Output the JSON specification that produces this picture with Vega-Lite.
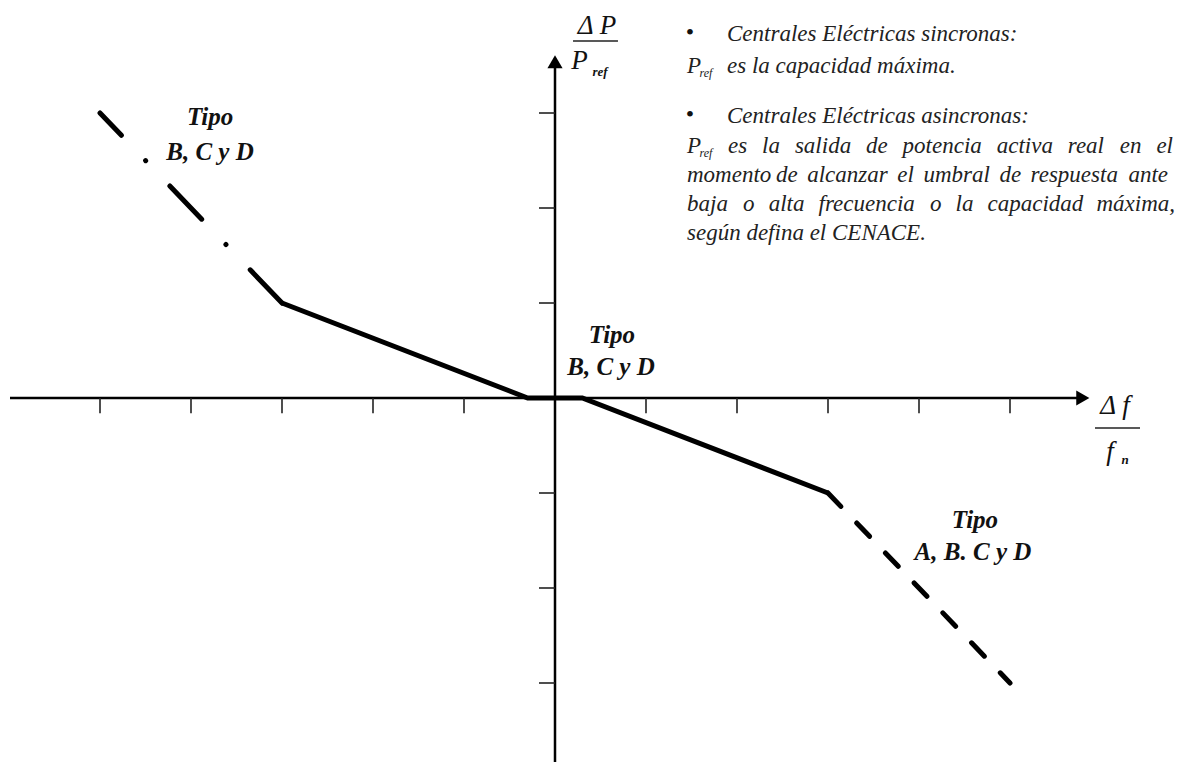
{
  "$schema": "https://vega.github.io/schema/vega-lite/v6.json",
  "width": 1182,
  "height": 762,
  "autosize": {"type": "none"},
  "padding": 0,
  "background": "white",
  "config": {"view": {"stroke": null}, "text": {"font": "Liberation Serif"}},
  "datasets": {
    "curve": [
      {"part": "dashL", "o": 0, "x": -3, "y": 1},
      {"part": "dashL", "o": 1, "x": -5, "y": 3},
      {"part": "solid", "o": 0, "x": -3, "y": 1},
      {"part": "solid", "o": 1, "x": -0.3, "y": 0},
      {"part": "solid", "o": 2, "x": 0.3, "y": 0},
      {"part": "solid", "o": 3, "x": 3, "y": -1},
      {"part": "dashR", "o": 0, "x": 3, "y": -1},
      {"part": "dashR", "o": 1, "x": 5, "y": -3}
    ],
    "axes": [
      {"x": -5.989, "y": 0, "x2": 5.8, "y2": 0},
      {"x": 0, "y": -3.8316, "x2": 0, "y2": 3.54}
    ],
    "ticks": [
      {"x": -5, "y": 0, "x2": -5, "y2": -0.16},
      {"x": -4, "y": 0, "x2": -4, "y2": -0.16},
      {"x": -3, "y": 0, "x2": -3, "y2": -0.16},
      {"x": -2, "y": 0, "x2": -2, "y2": -0.16},
      {"x": -1, "y": 0, "x2": -1, "y2": -0.16},
      {"x": 1, "y": 0, "x2": 1, "y2": -0.16},
      {"x": 2, "y": 0, "x2": 2, "y2": -0.16},
      {"x": 3, "y": 0, "x2": 3, "y2": -0.16},
      {"x": 4, "y": 0, "x2": 4, "y2": -0.16},
      {"x": 5, "y": 0, "x2": 5, "y2": -0.16},
      {"x": -0.176, "y": 3, "x2": 0, "y2": 3},
      {"x": -0.176, "y": 2, "x2": 0, "y2": 2},
      {"x": -0.176, "y": 1, "x2": 0, "y2": 1},
      {"x": -0.176, "y": -1, "x2": 0, "y2": -1},
      {"x": -0.176, "y": -2, "x2": 0, "y2": -2},
      {"x": -0.176, "y": -3, "x2": 0, "y2": -3}
    ],
    "bars": [
      {"x": 0.198, "y": 3.758, "x2": 0.692, "y2": 3.758},
      {"x": 5.934, "y": -0.316, "x2": 6.429, "y2": -0.316}
    ],
    "arrows": [
      {"x": 5.8, "y": 0, "dir": "right"},
      {"x": 0, "y": 3.54, "dir": "up"}
    ],
    "labels": [
      {"kind": "tipo", "t": "Tipo", "x": -3.791, "y": 2.958},
      {"kind": "tipo", "t": "B, C y D", "x": -3.791, "y": 2.589},
      {"kind": "tipo", "t": "Tipo", "x": 0.626, "y": 0.663},
      {"kind": "tipo", "t": "B, C y D", "x": 0.615, "y": 0.326},
      {"kind": "tipo", "t": "Tipo", "x": 4.615, "y": -1.284},
      {"kind": "tipo", "t": "A, B. C y D", "x": 4.593, "y": -1.621},
      {"kind": "axis", "t": "Δ P", "x": 0.462, "y": 3.916},
      {"kind": "axis", "t": "P", "x": 0.27, "y": 3.547},
      {"kind": "axis", "t": "Δ f", "x": 6.154, "y": -0.084},
      {"kind": "axis", "t": "f", "x": 6.099, "y": -0.568},
      {"kind": "axsub", "t": "ref", "x": 0.495, "y": 3.432},
      {"kind": "axsub", "t": "n", "x": 6.264, "y": -0.653},
      {"kind": "bullet", "t": "•", "x": 1.4835, "y": 3.842},
      {"kind": "bullet", "t": "•", "x": 1.4835, "y": 2.979},
      {"kind": "note", "t": "Centrales Eléctricas sincronas:", "x": 1.8901, "y": 3.758},
      {"kind": "note", "t": "P", "x": 1.4505, "y": 3.421},
      {"kind": "notesub", "t": "ref", "x": 1.5879, "y": 3.379},
      {"kind": "note", "t": "es la capacidad máxima.", "x": 1.8901, "y": 3.421},
      {"kind": "note", "t": "Centrales Eléctricas asincronas:", "x": 1.8901, "y": 2.895},
      {"kind": "note", "t": "P", "x": 1.4505, "y": 2.579},
      {"kind": "notesub", "t": "ref", "x": 1.5879, "y": 2.537},
      {"kind": "note", "t": "es", "x": 1.9011, "y": 2.579},
      {"kind": "note", "t": "la", "x": 2.2758, "y": 2.579},
      {"kind": "note", "t": "salida", "x": 2.6363, "y": 2.579},
      {"kind": "note", "t": "de", "x": 3.4176, "y": 2.579},
      {"kind": "note", "t": "potencia", "x": 3.8198, "y": 2.579},
      {"kind": "note", "t": "activa", "x": 4.8538, "y": 2.579},
      {"kind": "note", "t": "real", "x": 5.6352, "y": 2.579},
      {"kind": "note", "t": "en", "x": 6.2066, "y": 2.579},
      {"kind": "note", "t": "el", "x": 6.6088, "y": 2.579},
      {"kind": "note", "t": "momento", "x": 1.4505, "y": 2.274},
      {"kind": "note", "t": "de", "x": 2.4275, "y": 2.274},
      {"kind": "note", "t": "alcanzar", "x": 2.7714, "y": 2.274},
      {"kind": "note", "t": "el", "x": 3.7604, "y": 2.274},
      {"kind": "note", "t": "umbral", "x": 4.0484, "y": 2.274},
      {"kind": "note", "t": "de", "x": 4.8835, "y": 2.274},
      {"kind": "note", "t": "respuesta", "x": 5.2264, "y": 2.274},
      {"kind": "note", "t": "ante", "x": 6.3011, "y": 2.274},
      {"kind": "note", "t": "baja", "x": 1.4505, "y": 1.968},
      {"kind": "note", "t": "o", "x": 2.0659, "y": 1.968},
      {"kind": "note", "t": "alta", "x": 2.3485, "y": 1.968},
      {"kind": "note", "t": "frecuencia", "x": 2.8967, "y": 1.968},
      {"kind": "note", "t": "o", "x": 4.1198, "y": 1.968},
      {"kind": "note", "t": "la", "x": 4.4011, "y": 1.968},
      {"kind": "note", "t": "capacidad", "x": 4.7527, "y": 1.968},
      {"kind": "note", "t": "máxima,", "x": 5.9505, "y": 1.968},
      {"kind": "note", "t": "según defina el CENACE.", "x": 1.4505, "y": 1.663}
    ]
  },
  "encoding": {
    "x": {"field": "x", "type": "quantitative", "scale": {"domain": [-6.0989, 6.8901], "nice": false, "zero": false}, "axis": null},
    "y": {"field": "y", "type": "quantitative", "scale": {"domain": [-3.8316, 4.1895], "nice": false, "zero": false}, "axis": null}
  },
  "layer": [
    {
      "data": {"name": "axes"},
      "mark": {"type": "rule", "color": "black", "strokeWidth": 2.5},
      "encoding": {"x2": {"field": "x2"}, "y2": {"field": "y2"}}
    },
    {
      "data": {"name": "ticks"},
      "mark": {"type": "rule", "color": "#222222", "strokeWidth": 1.6},
      "encoding": {"x2": {"field": "x2"}, "y2": {"field": "y2"}}
    },
    {
      "data": {"name": "bars"},
      "mark": {"type": "rule", "color": "#222222", "strokeWidth": 1.6},
      "encoding": {"x2": {"field": "x2"}, "y2": {"field": "y2"}}
    },
    {
      "data": {"name": "arrows"},
      "mark": {"type": "point", "filled": true, "color": "black", "size": 230, "opacity": 1},
      "encoding": {
        "shape": {"field": "dir", "type": "nominal", "scale": {"domain": ["right", "up"], "range": ["triangle-right", "triangle-up"]}, "legend": null}
      }
    },
    {
      "data": {"name": "curve"},
      "transform": [{"filter": "datum.part === 'solid'"}],
      "mark": {"type": "line", "color": "black", "strokeWidth": 5, "strokeJoin": "miter"},
      "encoding": {"order": {"field": "o", "type": "quantitative"}}
    },
    {
      "data": {"name": "curve"},
      "transform": [{"filter": "datum.part === 'dashL'"}],
      "mark": {"type": "line", "color": "black", "strokeWidth": 5, "strokeCap": "round", "strokeDash": [46, 35, 0.1, 35]},
      "encoding": {"order": {"field": "o", "type": "quantitative"}}
    },
    {
      "data": {"name": "curve"},
      "transform": [{"filter": "datum.part === 'dashR'"}],
      "mark": {"type": "line", "color": "black", "strokeWidth": 5, "strokeCap": "round", "strokeDash": [18.5, 23]},
      "encoding": {"order": {"field": "o", "type": "quantitative"}}
    },
    {
      "data": {"name": "labels"},
      "transform": [{"filter": "datum.kind === 'tipo'"}],
      "mark": {"type": "text", "fontStyle": "italic", "fontWeight": "bold", "fontSize": 25, "align": "center", "baseline": "middle", "color": "#111111"},
      "encoding": {"text": {"field": "t"}}
    },
    {
      "data": {"name": "labels"},
      "transform": [{"filter": "datum.kind === 'axis'"}],
      "mark": {"type": "text", "fontStyle": "italic", "fontSize": 27, "align": "center", "baseline": "middle", "color": "#111111"},
      "encoding": {"text": {"field": "t"}}
    },
    {
      "data": {"name": "labels"},
      "transform": [{"filter": "datum.kind === 'axsub'"}],
      "mark": {"type": "text", "fontStyle": "italic", "fontWeight": "bold", "fontSize": 13, "align": "center", "baseline": "middle", "color": "#111111"},
      "encoding": {"text": {"field": "t"}}
    },
    {
      "data": {"name": "labels"},
      "transform": [{"filter": "datum.kind === 'bullet'"}],
      "mark": {"type": "text", "fontSize": 24, "align": "center", "baseline": "middle", "color": "#111111"},
      "encoding": {"text": {"field": "t"}}
    },
    {
      "data": {"name": "labels"},
      "transform": [{"filter": "datum.kind === 'note'"}],
      "mark": {"type": "text", "fontStyle": "italic", "fontSize": 23, "align": "left", "baseline": "alphabetic", "color": "#222222"},
      "encoding": {"text": {"field": "t"}}
    },
    {
      "data": {"name": "labels"},
      "transform": [{"filter": "datum.kind === 'notesub'"}],
      "mark": {"type": "text", "fontStyle": "italic", "fontSize": 12, "align": "left", "baseline": "alphabetic", "color": "#222222"},
      "encoding": {"text": {"field": "t"}}
    }
  ]
}
